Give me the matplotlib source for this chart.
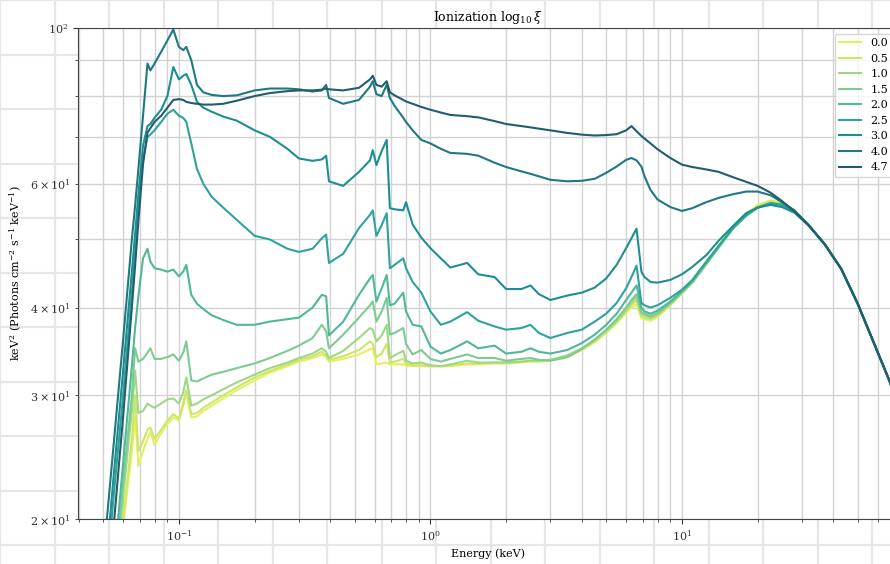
import numpy as np
import matplotlib
matplotlib.use("Agg")
import matplotlib.pyplot as plt
from matplotlib.ticker import MultipleLocator

plt.rcParams['font.family'] = ['DejaVu Serif']
plt.rcParams['mathtext.fontset'] = 'dejavuserif'

# energy grid (keV), shared by all spectra
energy = [0.05, 0.055, 0.06, 0.065, 0.067, 0.069, 0.072, 0.075, 0.077, 0.08,
          0.085, 0.09, 0.095, 0.1, 0.104, 0.107, 0.112, 0.118, 0.125, 0.135,
          0.15, 0.17, 0.2, 0.23, 0.27, 0.3, 0.34, 0.37, 0.385, 0.395,
          0.45, 0.52, 0.575, 0.59, 0.61, 0.64, 0.67, 0.69, 0.72, 0.78,
          0.8, 0.85, 0.92, 1.0, 1.1, 1.2, 1.4, 1.55, 1.8, 2.0,
          2.3, 2.5, 2.7, 3.0, 3.5, 4.0, 4.5, 5.0, 5.5, 6.0,
          6.3, 6.6, 6.9, 7.1, 7.5, 8.0, 9.0, 10, 11, 12.5,
          14, 16, 18, 20, 22.5, 25, 28, 32, 37, 43,
          50, 58, 67, 75]

# keV^2 * flux for each ionization parameter
spec_00 = [10, 14, 19.5, 25, 28, 23.8, 25, 26, 26.6, 25.5,
           26.5, 27.3, 27.9, 27.6, 29, 30.2, 27.9, 28, 28.5, 29,
           29.7, 30.5, 31.5, 32.3, 33, 33.5, 33.9, 34.3, 34, 33.5,
           33.8, 34.3, 34.9, 35, 33.2, 33.3, 33.4, 33.2, 33.2, 33.2,
           33.1, 33, 33, 33, 33, 33, 33.2, 33.2, 33.3, 33.3,
           33.4, 33.5, 33.5, 33.6, 34, 34.8, 35.7, 36.8, 38, 39.3,
           40, 40.4, 38.6, 38.5, 38.3, 38.8, 40.3, 41.9, 43.4, 46.1,
           48.9, 52.1, 54.4, 56, 56.8, 56.4, 55, 52.3, 49.2, 45.4,
           40.5, 35.6, 31.4, 27.8]
spec_05 = [10.5, 14.5, 20, 26, 30, 25, 25.8, 26.8, 27, 26,
           26.8, 27.6, 28.2, 27.8, 29.2, 30.5, 28.2, 28.3, 28.8, 29.3,
           30, 30.8, 31.8, 32.5, 33.2, 33.7, 34.1, 34.6, 34.2, 33.7,
           34.1, 34.8, 35.8, 35.5, 34, 34.4, 35.5, 33.4, 33.5, 33.8,
           33.3, 33.1, 33.1, 33, 33, 33.1, 33.3, 33.3, 33.4, 33.4,
           33.5, 33.6, 33.6, 33.7, 34.1, 34.9, 35.8, 36.9, 38.1, 39.5,
           40.3, 40.9, 38.9, 38.7, 38.5, 39, 40.4, 41.9, 43.4, 46.1,
           48.8, 52, 54.2, 55.8, 56.6, 56.3, 55, 52.3, 49.2, 45.4,
           40.5, 35.6, 31.4, 27.8]
spec_10 = [11, 15.5, 21.5, 28.5, 32.5, 28.3, 28.5, 29.2, 29, 28.8,
           29.2, 29.6, 29.7, 29.2, 30.3, 31.8, 29, 29.2, 29.6, 30,
           30.6, 31.3, 32.1, 32.8, 33.4, 33.9, 34.4, 35, 34.6, 33.9,
           34.7, 36.2, 37.4, 37.2, 35.8, 36.5, 37.8, 33.9, 34.2, 34.7,
           33.6, 33.3, 33.4, 33.1, 33, 33.2, 33.6, 33.4, 33.4, 33.4,
           33.5, 33.6, 33.6, 33.7, 34.2, 35, 36, 37.1, 38.3, 39.7,
           40.6, 41.4, 39.2, 39, 38.7, 39.1, 40.5, 42, 43.4, 46.1,
           48.7, 51.9, 54, 55.6, 56.4, 56.1, 54.9, 52.3, 49.2, 45.4,
           40.5, 35.6, 31.4, 27.8]
spec_15 = [11.5, 16, 22.5, 30, 35, 33.5, 33.8, 34.5, 35, 33.8,
           33.8, 34, 34.3, 33.6, 34.5, 35.8, 31.5, 31.4, 31.7, 32.1,
           32.4, 32.8, 33.3, 33.9, 34.7, 35.3, 36.2, 37.8, 37, 35,
           36.6, 38.7, 40.3, 40.8, 38.2, 39.5, 41.3, 36.6, 36.8, 37.4,
           35.5, 34.3, 34.8, 33.8, 33.5, 33.8, 34.3, 33.9, 33.9, 33.6,
           33.8, 33.9, 33.7, 33.6, 34, 34.9, 36, 37.2, 38.5, 40,
           41, 41.8, 39.4, 39.2, 38.9, 39.3, 40.6, 42.1, 43.5, 46.2,
           48.7, 51.9, 54, 55.5, 56.3, 56.1, 54.9, 52.3, 49.2, 45.4,
           40.5, 35.6, 31.4, 27.8]
spec_20 = [12, 17, 24, 33, 37.5, 41.5, 47, 48.5, 46.5, 45.5,
           45.3, 45, 45.3, 44.3, 45, 46, 41.7, 40.5, 39.8, 39,
           38.4, 37.8, 37.8, 38.2, 38.5, 38.7, 40, 41.7, 41.5, 36.5,
           38.2, 41.7, 44, 44.5, 40.8, 42.6, 44.5, 40.3, 40.5, 42,
           39.5, 37.8, 37.6, 35.2, 34.4, 34.8, 35.8, 35, 35.3, 34.4,
           34.6, 35, 34.6, 34.4, 34.8, 35.6, 36.6, 37.8, 39.2, 41,
           42, 43, 40, 39.5, 39.2, 39.6, 40.8, 42.2, 43.6, 46.3,
           48.8, 51.9, 54.1, 55.5, 56.3, 56, 54.8, 52.3, 49.2, 45.4,
           40.5, 35.6, 31.4, 27.8]
spec_25 = [14.5, 21.5, 30, 42, 48, 55, 65, 70, 70.5, 71.5,
           73.5, 75.5, 76.5, 75, 74.5, 73.5, 68.5, 63, 60, 57.5,
           55.5, 53.3, 50.6, 50, 48.5, 48, 48.5, 50.2, 50.8, 46.3,
           47.7, 51.9, 54.2, 55, 50.6, 52.4, 54.5, 45.5, 46, 47,
           45.5, 43.5, 42, 39.5, 37.8, 38.2, 39.4, 38.3, 37.6, 37.2,
           37.4, 37.8, 36.8, 36.2, 36.8, 37.2, 38.2, 39.2, 40.6, 42.6,
           44.2, 45.9, 40.6, 40.3, 40, 40.3, 41.3, 42.4, 43.8, 46.5,
           49, 52, 54.2, 55.5, 56.3, 56, 54.8, 52.3, 49.2, 45.4,
           40.5, 35.6, 31.4, 27.8]
spec_30 = [15.5, 23, 32.5, 45, 51, 58, 68, 72.5, 73, 74.5,
           76.5, 80, 88, 84.5, 85.5, 86, 83, 78.5, 77, 76,
           74.8, 73.8, 71.5, 70, 67.3, 65.2, 64.7, 65, 65.8, 60.5,
           59.6, 62.4, 64.8, 67, 63.8, 66.8, 69.3, 55.4, 55.2, 55,
           56.5, 52.5, 50.3, 48.6, 47, 45.6, 46.3, 44.6, 44.2, 42.5,
           42.5, 43, 41.8, 41, 41.6, 42, 42.7, 44, 46, 48.6,
           50.2, 51.8, 45, 44.2, 43.5, 43.4, 43.8, 44.6, 45.7, 47.5,
           49.8, 52.3, 54.5, 55.5, 56, 55.6, 54.6, 52.3, 49.2, 45.4,
           40.5, 35.6, 31.4, 27.8]
spec_40 = [17.5, 25.5, 36, 50, 56, 63, 75, 89, 87, 89,
           92.5, 96, 99.5, 94, 93, 94, 90, 83, 81, 80.3,
           80, 80.2, 81.5, 82, 82, 81.8, 81.2, 81.5, 83, 79.5,
           78, 79, 82.5, 84, 80.5, 80, 83, 79.5, 77.5, 74.5,
           73.5, 71.5, 69.3, 68.5, 67.3, 66.4, 66.2, 65.8, 64.3, 63.4,
           62.5, 62, 61.5, 60.8, 60.5, 60.6, 61, 62.2, 63.5, 64.9,
           65.3, 64.8, 63.5, 61.5, 58.8, 57, 55.6, 54.9, 55.4, 56.5,
           57.3, 58, 58.5, 58.5, 57.8, 56.5, 55, 52.4, 49.2, 45.4,
           40.5, 35.6, 31.4, 27.8]
spec_47 = [13, 19.5, 28, 40, 46, 53, 64, 71, 72, 73.5,
           75, 77, 79, 79.2, 79, 78.5, 78.2, 78, 77.8, 77.8,
           78, 78.8, 80, 80.8, 81.3, 81.5, 81.5, 81.7, 82, 81.8,
           81.5, 82.2, 84.5, 85.5, 83, 82.5, 84, 81, 80.2, 79,
           78.6, 78, 77.2, 76.5, 75.8, 75.2, 74.9, 74.6, 73.7, 73,
           72.5, 72.2, 71.9, 71.5, 70.9, 70.5, 70.3, 70.4, 70.6, 71.5,
           72.5, 71.3, 70.2, 69.6, 68.5, 67.2, 65.3, 63.9, 63.4, 62.9,
           62.4, 61.3, 60.4, 59.6, 58.3, 56.7, 54.8, 52.3, 49.2, 45.4,
           40.5, 35.6, 31.4, 27.8]

log_xi = ['0.0', '0.5', '1.0', '1.5', '2.0', '2.5', '3.0', '4.0', '4.7']
spectra = [spec_00, spec_05, spec_10, spec_15, spec_20,
           spec_25, spec_30, spec_40, spec_47]

colors = ['#e6f05a', '#cbe66a', '#9fd786', '#7ccb92', '#4fb79a',
          '#2ea39b', '#1e8f90', '#1f7982', '#225d6d']

fig = plt.figure(figsize=(8.9, 5.64), dpi=100)
fig.patch.set_facecolor('white')

# faint paper grid behind the figure
bg = fig.add_axes([0, 0, 1, 1], zorder=0)
bg.set_xlim(0, 890)
bg.set_ylim(564, 0)
bg.xaxis.set_major_locator(MultipleLocator(54.5))
bg.yaxis.set_major_locator(MultipleLocator(54.5))
bg.grid(True, color='#e6e6e6', lw=1.6)
bg.tick_params(length=0, labelbottom=False, labelleft=False)
for s in bg.spines.values():
    s.set_visible(False)

ax = fig.add_axes([78 / 890, 1 - 519 / 564, 820 / 890, 491 / 564], zorder=1)
ax.set_facecolor('white')

for lab, vals, c in zip(log_xi, spectra, colors):
    ax.plot(energy, vals, color=c, lw=1.5, label=lab)

ax.set_xscale('log')
ax.set_yscale('log')
ax.set_xlim(0.0397, 72.3)
ax.set_ylim(20, 100)

ax.grid(True, which='both', color='#d2d2d2', lw=1.0)
ax.tick_params(which='both', labelsize=8, colors='#333333')
for s in ax.spines.values():
    s.set_color('#444444')

ax.set_title(r'Ionization $\log_{10}\xi$', fontsize=9, pad=5)
ax.set_xlabel('Energy (keV)', fontsize=8)
ax.set_ylabel(r'keV$^2$ (Photons cm$^{-2}$ s$^{-1}$ keV$^{-1}$)', fontsize=8)

ax.legend(loc='upper right', fontsize=8)

fig.savefig('out.png', dpi=100)
